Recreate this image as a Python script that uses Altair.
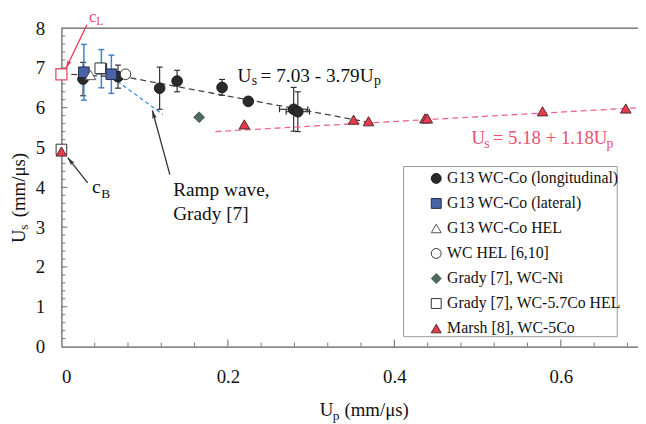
import math
import altair as alt
import pandas as pd

FONT = "Liberation Serif, Tinos, Times New Roman, DejaVu Serif, serif"
W, H = 583, 322
XMAX, YMAX = 0.6927, 8.0
PXX = W / XMAX
PXY = H / YMAX

SERIES = ["G13 WC-Co (longitudinal)", "G13 WC-Co (lateral)", "G13 WC-Co HEL",
          "WC HEL [6,10]", "Grady [7], WC-Ni", "Grady [7], WC-5.7Co HEL",
          "Marsh [8], WC-5Co"]
FILLS = ["#2a2a2a", "#4a63a6", "#ffffff", "#ffffff", "#506b5e", "#ffffff", "#e8394d"]
STROKES = ["#1a1a1a", "#26294a", "#555555", "#333333", "#3e5449", "#333333", "#4a3030"]
SHAPES = ["circle", "square", "triangle-up", "circle", "diamond", "square", "triangle-up"]

# G13 WC-Co longitudinal
long_up = [0.026, 0.068, 0.118, 0.139, 0.193, 0.2245, 0.279, 0.284]
long_us = [6.72, 6.78, 6.49, 6.67, 6.51, 6.16, 5.96, 5.90]
long_yerr = [0.42, 0.29, 0.53, 0.27, 0.20, 0.05, 0.55, 0.50]
long_xerr = [0, 0, 0, 0, 0, 0, 0.017, 0.014]
# G13 WC-Co lateral
lat_up = [0.027, 0.048, 0.060]
lat_us = [6.89, 6.98, 6.84]
lat_yerr = [0.70, 0.48, 0.48]
# HEL points
hel_up = [0.035]
hel_us = [6.82]
wchel_up = [0.077]
wchel_us = [6.84]
ni_up = [0.1655]
ni_us = [5.76]
grhel_up = [0.0467, 0.0]
grhel_us = [6.99, 4.95]
marsh_up = [0.0, 0.2198, 0.351, 0.369, 0.4368, 0.4396, 0.578, 0.678]
marsh_us = [4.90, 5.58, 5.70, 5.66, 5.73, 5.73, 5.91, 5.98]
cl_up = [0.0]
cl_us = [6.84]

# lines
fit1_up = [0.0, 0.08, 0.37]
fit1_us = [6.85, 6.76, 5.63]
ramp_up = [0.047, 0.122]
ramp_us = [6.97, 5.83]
fit2_up = [0.185, 0.6927]
fit2_us = [5.40, 6.00]

X_TICKS = [0, 0.2, 0.4, 0.6]
Y_TICKS = [0, 1, 2, 3, 4, 5, 6, 7, 8]

XS = alt.Scale(domain=[0, XMAX], nice=False, zero=False)
YS = alt.Scale(domain=[0, YMAX], nice=False, zero=False)
XAX = alt.Axis(values=X_TICKS, format="~g", ticks=False, tickSize=0, labelPadding=21,
               grid=False, title=None, domainColor="#666666", domainWidth=1.2,
               labelFont=FONT, labelFontSize=19, labelColor="#111111")
YAX = alt.Axis(values=Y_TICKS, ticks=False, tickSize=0, labelPadding=17,
               grid=False, title=None, domainColor="#666666", domainWidth=1.2,
               labelFont=FONT, labelFontSize=19, labelColor="#111111")


def X(f):
    return alt.X(f, type="quantitative", scale=XS, axis=XAX)


def Y(f):
    return alt.Y(f, type="quantitative", scale=YS, axis=YAX)


rows = []
for name, ups, uss in [(SERIES[0], long_up, long_us), (SERIES[1], lat_up, lat_us),
                       (SERIES[2], hel_up, hel_us), (SERIES[3], wchel_up, wchel_us),
                       (SERIES[4], ni_up, ni_us), (SERIES[5], grhel_up, grhel_us),
                       (SERIES[6], marsh_up, marsh_us)]:
    for a, b in zip(ups, uss):
        rows.append({"series": name, "up": a, "us": b})
pts = pd.DataFrame(rows)

# ---------- decorations: inward ticks ----------
x_minor = [round(i * 0.04, 2) for i in range(1, 18) if i % 5]
y_minor = [round(i * 0.2, 1) for i in range(1, 40) if i % 5]

base = alt.Chart(pd.DataFrame({"a": [0]}))

legend_box = base.mark_rect(fill="white", stroke="#9a9a9a", strokeWidth=1).encode(
    x=alt.value(346), x2=alt.value(562), y=alt.value(140), y2=alt.value(312))

xt_major = alt.Chart(pd.DataFrame({"v": X_TICKS[1:]})).mark_rule(color="#666666", strokeWidth=1).encode(
    x=X("v"), y=alt.value(H), y2=alt.value(H - 7))
xt_minor = alt.Chart(pd.DataFrame({"v": x_minor})).mark_rule(color="#777777", strokeWidth=1).encode(
    x=X("v"), y=alt.value(H), y2=alt.value(H - 4))
yt_major = alt.Chart(pd.DataFrame({"v": Y_TICKS[1:-1]})).mark_rule(color="#666666", strokeWidth=1).encode(
    y=Y("v"), x=alt.value(0), x2=alt.value(6))
yt_minor = alt.Chart(pd.DataFrame({"v": y_minor})).mark_rule(color="#777777", strokeWidth=1).encode(
    y=Y("v"), x=alt.value(0), x2=alt.value(4))
top_line = base.mark_rule(color="#666666", strokeWidth=1.2).encode(
    x=alt.datum(0, type="quantitative", scale=XS, axis=XAX),
    x2=alt.datum(XMAX), y=alt.datum(YMAX, type="quantitative", scale=YS, axis=YAX))


# ---------- error bars ----------
def vbars(ups, uss, errs, color, width):
    d = pd.DataFrame({"x": ups, "y": uss, "e": errs})
    d = d[d["e"] > 0]
    d = d.assign(lo=d["y"] - d["e"], hi=d["y"] + d["e"])
    rule = alt.Chart(d).mark_rule(color=color, strokeWidth=width).encode(
        x=X("x"), y=Y("lo"), y2=alt.Y2("hi"))
    caps = pd.concat([d[["x"]].assign(c=d["lo"]), d[["x"]].assign(c=d["hi"])])
    cap = alt.Chart(caps).mark_tick(orient="horizontal", size=6, thickness=width,
                                    color=color, opacity=1).encode(x=X("x"), y=Y("c"))
    return rule + cap


def hbars(ups, uss, errs, color, width):
    d = pd.DataFrame({"x": ups, "y": uss, "e": errs})
    d = d[d["e"] > 0]
    d = d.assign(lo=d["x"] - d["e"], hi=d["x"] + d["e"])
    rule = alt.Chart(d).mark_rule(color=color, strokeWidth=width).encode(
        y=Y("y"), x=X("lo"), x2=alt.X2("hi"))
    caps = pd.concat([d[["y"]].assign(c=d["lo"]), d[["y"]].assign(c=d["hi"])])
    cap = alt.Chart(caps).mark_tick(orient="vertical", size=6, thickness=width,
                                    color=color, opacity=1).encode(x=X("c"), y=Y("y"))
    return rule + cap


err_long = vbars(long_up, long_us, long_yerr, "#333333", 1.2)
err_long_x = hbars(long_up, long_us, long_xerr, "#333333", 1.2)
err_lat = vbars(lat_up, lat_us, lat_yerr, "#4a7fd0", 1.5)


# ---------- lines ----------
def dline(ups, uss, color, dash, width=1.3):
    return alt.Chart(pd.DataFrame({"x": ups, "y": uss})).mark_line(
        color=color, strokeDash=dash, strokeWidth=width).encode(x=X("x"), y=Y("y"))


fit1 = dline(fit1_up, fit1_us, "#444444", [6, 4])
ramp = dline(ramp_up, ramp_us, "#3a90dc", [4, 3])
fit2 = dline(fit2_up, fit2_us, "#f0648a", [6, 4])

# ---------- arrows ----------
arrow_x = [0.0305, 0.0315, 0.1303]
arrow_y = [8.08, 4.11, 4.32]
arrow_x2 = [0.0056, 0.0077, 0.1093]
arrow_y2 = [6.99, 4.745, 5.93]
arrow_c = ["#e8395a", "#333333", "#333333"]
angles = []
for a, b, c, d in zip(arrow_x, arrow_y, arrow_x2, arrow_y2):
    dx = (c - a) * PXX
    dy = -(d - b) * PXY
    ang = math.degrees(math.atan2(dx, -dy)) % 360
    angles.append(ang)
arr = pd.DataFrame({"x": arrow_x, "y": arrow_y, "x2": arrow_x2, "y2": arrow_y2,
                    "c": arrow_c, "ang": angles})
arrow_lines = alt.Chart(arr).mark_rule(strokeWidth=1.3).encode(
    x=X("x"), y=Y("y"), x2=alt.X2("x2"), y2=alt.Y2("y2"), color=alt.Color("c:N", scale=None))
arrow_heads = alt.Chart(arr).mark_point(shape="M0,0L-0.55,2L0,1.6L0.55,2Z", filled=True,
                                        size=70, opacity=1).encode(
    x=X("x2"), y=Y("y2"), angle=alt.Angle("ang:Q", scale=None), color=alt.Color("c:N", scale=None))

# ---------- points ----------
LEG = alt.Legend(title=None, orient="none", legendX=371, legendY=144, padding=0,
                 labelFont=FONT, labelFontSize=16, labelColor="#111111", symbolSize=100,
                 symbolStrokeWidth=1, rowPadding=9.3, labelOffset=3, symbolOpacity=1,
                 labelLimit=400)
points = alt.Chart(pts).mark_point(size=115, opacity=1, strokeWidth=1).encode(
    x=X("up"), y=Y("us"),
    shape=alt.Shape("series:N", scale=alt.Scale(domain=SERIES, range=SHAPES), legend=LEG),
    fill=alt.Fill("series:N", scale=alt.Scale(domain=SERIES, range=FILLS), legend=LEG),
    stroke=alt.Stroke("series:N", scale=alt.Scale(domain=SERIES, range=STROKES), legend=LEG),
)
cl_point = alt.Chart(pd.DataFrame({"x": cl_up, "y": cl_us})).mark_point(
    shape="square", size=125, fill="white", stroke="#e8506a", strokeWidth=1.3, opacity=1).encode(
    x=X("x"), y=Y("y"))


# ---------- texts ----------
def txt(x, y, s, size=19.5, color="#111111", dx=0, dy=0, angle=0):
    d = pd.DataFrame({"x": [x], "y": [y], "t": [s]})
    kw = dict(align="left", baseline="alphabetic", dx=dx, dy=dy, fontSize=size,
              font=FONT, color=color)
    if angle:
        kw["angle"] = angle
    return alt.Chart(d).mark_text(**kw).encode(x=X("x"), y=Y("y"), text="t:N")


PINK = "#e8506e"
texts = [
    # Us = 7.03 - 3.79Up
    txt(0.2115, 6.658, "U"), txt(0.2115, 6.658, "s", size=14, dx=14.5, dy=4),
    txt(0.2115, 6.658, "= 7.03 - 3.79U", dx=23.3), txt(0.2115, 6.658, "p", size=14, dx=138, dy=4),
    # Us = 5.18 + 1.18Up
    txt(0.4927, 5.086, "U", size=19, color=PINK), txt(0.4927, 5.086, "s", size=14, color=PINK, dx=12.8, dy=4),
    txt(0.4927, 5.086, "= 5.18 + 1.18U", size=19, color=PINK, dx=21.5),
    txt(0.4927, 5.086, "p", size=14, color=PINK, dx=136.5, dy=4),
    # cL, cB
    txt(0.0330, 8.155, "c", size=17, color=PINK), txt(0.0330, 8.155, "L", size=12, color=PINK, dx=7.4, dy=3.4),
    txt(0.0368, 3.851, "c", size=20), txt(0.0368, 3.851, "B", size=13.5, dx=9.2, dy=5),
    # ramp wave
    txt(0.1343, 3.776, "Ramp wave,"), txt(0.1343, 3.180, "Grady [7]"),
    # axis titles
    txt(0.3104, -1.739, "U", size=19), txt(0.3104, -1.739, "p", size=13.5, dx=13.2, dy=4),
    txt(0.3104, -1.739, "(mm/μs)", size=19, dx=25),
    txt(-0.0440, 2.601, "U", size=19, angle=270), txt(-0.0440, 2.601, "s", size=13.5, dx=13.5, dy=3, angle=270),
    txt(-0.0440, 2.601, "(mm/μs)", size=19, dx=26, angle=270),
]

layers = [legend_box, xt_major, xt_minor, yt_major, yt_minor, top_line,
          err_long, err_long_x, err_lat, fit1, ramp, fit2, arrow_lines,
          points, cl_point, arrow_heads] + texts

chart = alt.layer(*layers).properties(
    width=W, height=H,
    padding={"left": 54, "top": 18, "right": 0, "bottom": 76},
    autosize=alt.AutoSizeParams(type="none"),
).configure_view(stroke=None).configure(background="white")

chart.save("out.html", embed_options={"renderer": "svg", "actions": False})
